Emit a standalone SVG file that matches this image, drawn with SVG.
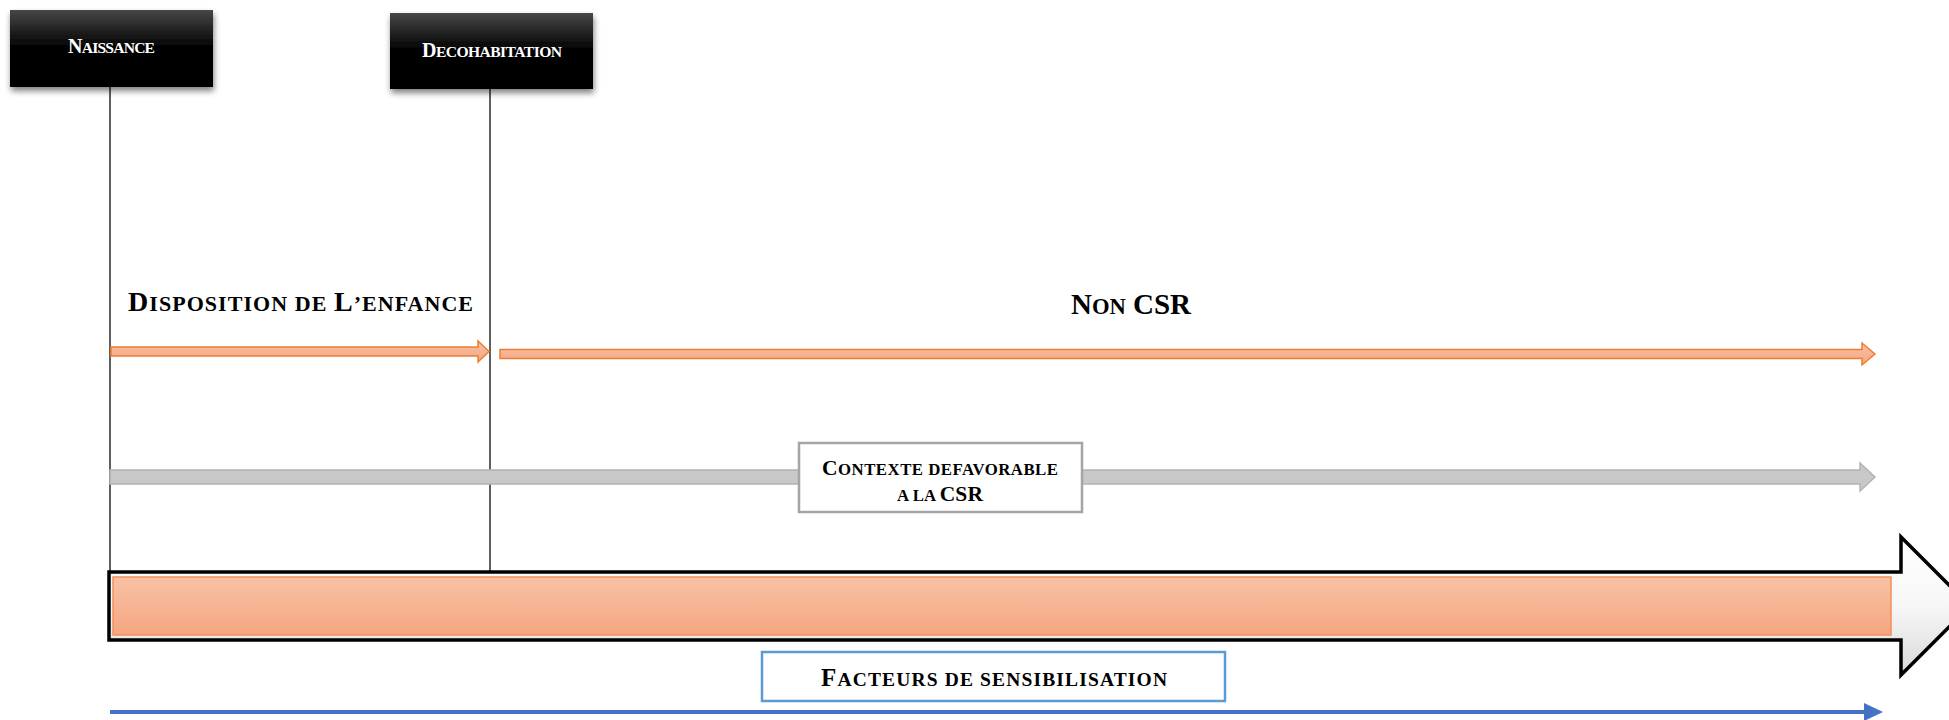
<svg xmlns="http://www.w3.org/2000/svg" width="1949" height="720" viewBox="0 0 1949 720">
<style>
.t{font-family:"Liberation Serif","Times New Roman",serif;font-weight:bold;fill:#000}
.w{fill:#fff}
.vl{stroke:#2a2a2a;stroke-width:1.5;fill:none}
.or{fill:url(#gOr);stroke:#ed7d31;stroke-width:1.5}
</style>
<defs>
<linearGradient id="gBlk" x1="0" y1="0" x2="0" y2="1">
<stop offset="0" stop-color="#474747"/><stop offset="0.5" stop-color="#000"/><stop offset="1" stop-color="#000"/>
</linearGradient>
<linearGradient id="gOr" x1="0" y1="0" x2="0" y2="1">
<stop offset="0" stop-color="#f8c2a6"/><stop offset="1" stop-color="#f5a580"/>
</linearGradient>
<linearGradient id="gBig" x1="0" y1="0" x2="0" y2="1">
<stop offset="0" stop-color="#ffffff"/><stop offset="0.5" stop-color="#f7f7f7"/><stop offset="1" stop-color="#d9d9d9"/>
</linearGradient>
<filter id="sh" x="-10%" y="-20%" width="120%" height="150%">
<feGaussianBlur in="SourceAlpha" stdDeviation="3"/>
<feOffset dx="1" dy="4" result="b"/>
<feComponentTransfer><feFuncA type="linear" slope="0.5"/></feComponentTransfer>
<feMerge><feMergeNode/><feMergeNode in="SourceGraphic"/></feMerge>
</filter>
</defs>
<rect width="1949" height="720" fill="#fff"/>

<g id="connectors">
<line class="vl" x1="110" y1="87" x2="110" y2="572"/>
<line class="vl" x1="490" y1="89" x2="490" y2="572"/>
<polygon class="or" points="111,347 478,347 478,341 489,351.5 478,362 478,356 111,356"/>
<polygon class="or" points="500,349.5 1862,349.5 1862,343 1875,354 1862,365 1862,358.5 500,358.5"/>
<polygon fill="#c8c8c8" stroke="#b3b3b3" stroke-width="1.5" points="110,470 1860,470 1860,463 1875,477 1860,491 1860,484 110,484"/>
<line x1="110" y1="712" x2="1866" y2="712" stroke="#4472c4" stroke-width="4"/>
<polygon fill="#4472c4" points="1864,703 1883,712 1864,721"/>
</g>

<g id="big-arrow">
<polygon fill="url(#gBig)" stroke="#000" stroke-width="3.5" stroke-linejoin="miter" points="109,572 1901,572 1901,537 1970,606 1901,675 1901,640 109,640"/>
<rect x="113" y="577" width="1778" height="58" fill="url(#gOr)" stroke="#f4915a" stroke-width="1.5"/>
</g>

<g id="naissance">
<rect x="10" y="10" width="203" height="77" fill="url(#gBlk)" filter="url(#sh)"/>
<text class="t w" x="68" y="53" font-size="20" textLength="87" lengthAdjust="spacing">N<tspan font-size="15.6">AISSANCE</tspan></text>
</g>

<g id="decohabitation">
<rect x="390" y="13" width="203" height="76" fill="url(#gBlk)" filter="url(#sh)"/>
<text class="t w" x="422" y="57" font-size="20" textLength="140" lengthAdjust="spacing">D<tspan font-size="15.6">ECOHABITATION</tspan></text>
</g>

<g id="disposition">
<text class="t" x="128" y="311" font-size="28" textLength="345" lengthAdjust="spacing">D<tspan font-size="22">ISPOSITION DE </tspan>L<tspan font-size="22">’ENFANCE</tspan></text>
</g>

<g id="non-csr">
<text class="t" x="1071" y="314" font-size="29" textLength="120" lengthAdjust="spacing">N<tspan font-size="22.6">ON</tspan> CSR</text>
</g>

<g id="contexte">
<rect x="799" y="443" width="283" height="69" fill="#fff" stroke="#a5a5a5" stroke-width="2.5"/>
<text class="t" x="822" y="475" font-size="21.5" textLength="236" lengthAdjust="spacing">C<tspan font-size="16.8">ONTEXTE DEFAVORABLE</tspan></text>
<text class="t" x="897" y="501" font-size="21.5" textLength="86" lengthAdjust="spacing"><tspan font-size="16.8">A LA </tspan>CSR</text>
</g>

<g id="facteurs">
<rect x="762" y="652" width="463" height="49" fill="#fff" stroke="#5b9bd5" stroke-width="2.5"/>
<text class="t" x="821" y="686" font-size="25" textLength="346" lengthAdjust="spacing">F<tspan font-size="19.5">ACTEURS DE SENSIBILISATION</tspan></text>
</g>
</svg>
